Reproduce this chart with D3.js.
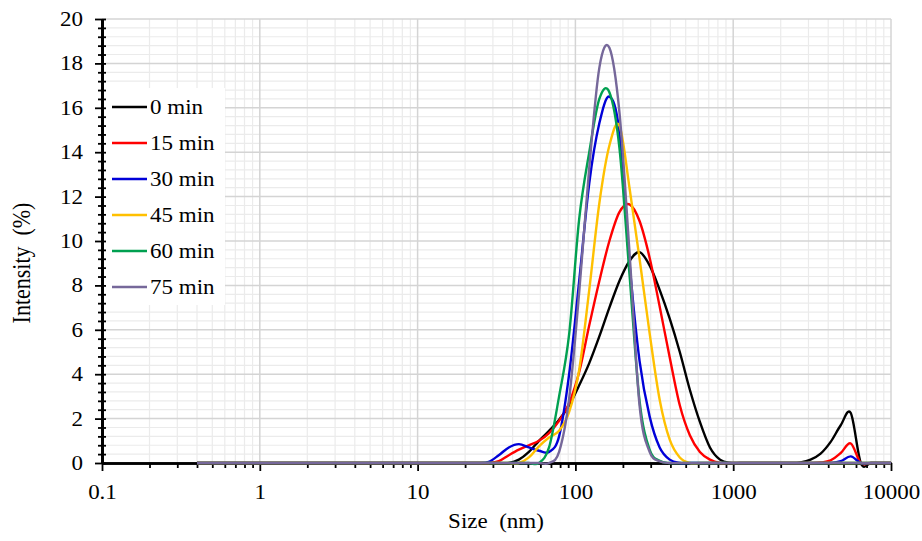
<!DOCTYPE html>
<html>
<head>
<meta charset="utf-8">
<script src="https://cdn.jsdelivr.net/npm/d3@7"></script>
<style>
  body { margin: 0; background: #fff; }
  svg { display: block; }
  text { font-family: "Liberation Serif", "Times New Roman", serif; fill: #000; }
</style>
</head>
<body>
<svg id="chart" width="922" height="541"></svg>
<script>
// Size classes (nm) of the DLS intensity distribution
const sizes = [
  0.4, 0.4632, 0.5365, 0.6213, 0.7195, 0.8332, 0.9649, 1.117, 1.294, 1.499,
  1.736, 2.01, 2.328, 2.696, 3.122, 3.615, 4.187, 4.849, 5.615, 6.503,
  7.531, 8.721, 10.1, 11.7, 13.54, 15.69, 18.17, 21.04, 24.36, 28.21,
  32.67, 37.84, 43.82, 50.75, 58.77, 68.06, 78.82, 91.28, 105.7, 122.4,
  141.8, 164.2, 190.1, 220.2, 255.0, 295.3, 342.0, 396.1, 458.7, 531.2,
  615.1, 712.4, 825.0, 955.4, 1106, 1281, 1484, 1718, 1990, 2305,
  2669, 3091, 3580, 4145, 4801, 5560, 6439, 7456, 8635, 10000
];

// Intensity (%) per size class for each sonication time
const int0 = [
  0, 0, 0, 0, 0, 0, 0, 0, 0, 0,
  0, 0, 0, 0, 0, 0, 0, 0, 0, 0,
  0, 0, 0, 0, 0, 0, 0, 0, 0, 0,
  0, 0, 0.15, 0.5, 1.0, 1.45, 1.95, 2.6, 3.5, 4.5,
  5.7, 7.0, 8.2, 9.1, 9.5, 8.9, 7.8, 6.5, 5.0, 3.3,
  1.85, 0.7, 0.15, 0, 0, 0, 0, 0, 0, 0,
  0.03, 0.15, 0.42, 0.95, 1.7, 2.25, 0, 0, 0, 0
];
const int15 = [
  0, 0, 0, 0, 0, 0, 0, 0, 0, 0,
  0, 0, 0, 0, 0, 0, 0, 0, 0, 0,
  0, 0, 0, 0, 0, 0, 0, 0, 0, 0,
  0.08, 0.35, 0.6, 0.8, 1.0, 1.35, 1.9, 2.7, 4.1, 6.2,
  8.2, 10.0, 11.3, 11.65, 10.9, 9.25, 7.05, 4.75, 2.6, 1.25,
  0.5, 0.15, 0, 0, 0, 0, 0, 0, 0, 0,
  0, 0, 0.02, 0.12, 0.45, 0.88, 0, 0, 0, 0
];
const int30 = [
  0, 0, 0, 0, 0, 0, 0, 0, 0, 0,
  0, 0, 0, 0, 0, 0, 0, 0, 0, 0,
  0, 0, 0, 0, 0, 0, 0, 0, 0, 0.05,
  0.35, 0.7, 0.85, 0.7, 0.55, 0.5, 1.2, 4.0, 8.2, 12.6,
  15.3, 16.5, 14.9, 9.0, 4.6, 2.1, 0.7, 0.15, 0, 0,
  0, 0, 0, 0, 0, 0, 0, 0, 0, 0,
  0, 0, 0, 0, 0.08, 0.3, 0, 0, 0, 0
];
const int45 = [
  0, 0, 0, 0, 0, 0, 0, 0, 0, 0,
  0, 0, 0, 0, 0, 0, 0, 0, 0, 0,
  0, 0, 0, 0, 0, 0, 0, 0, 0, 0,
  0, 0, 0, 0.25, 0.75, 1.15, 1.45, 2.3, 4.2, 7.8,
  11.7, 14.3, 15.2, 12.4, 9.2, 5.85, 2.85, 1.05, 0.25, 0,
  0, 0, 0, 0, 0, 0, 0, 0, 0, 0,
  0, 0, 0, 0, 0, 0, 0, 0, 0, 0
];
const int60 = [
  0, 0, 0, 0, 0, 0, 0, 0, 0, 0,
  0, 0, 0, 0, 0, 0, 0, 0, 0, 0,
  0, 0, 0, 0, 0, 0, 0, 0, 0, 0,
  0, 0, 0, 0, 0, 0.7, 3.0, 5.8, 11.0, 14.0,
  16.4, 16.7, 14.2, 8.5, 2.8, 0.6, 0.1, 0, 0, 0,
  0, 0, 0, 0, 0, 0, 0, 0, 0, 0,
  0, 0, 0, 0, 0, 0, 0, 0, 0, 0
];
const int75 = [
  0, 0, 0, 0, 0, 0, 0, 0, 0, 0,
  0, 0, 0, 0, 0, 0, 0, 0, 0, 0,
  0, 0, 0, 0, 0, 0, 0, 0, 0, 0,
  0, 0, 0, 0, 0, 0, 0.5, 2.9, 7.7, 13.3,
  17.8, 18.7, 15.8, 9.5, 2.6, 0.5, 0.08, 0, 0, 0,
  0, 0, 0, 0, 0, 0, 0, 0, 0, 0,
  0, 0, 0, 0, 0, 0, 0, 0, 0, 0
];

const seriesNames = ["0 min", "15 min", "30 min", "45 min", "60 min", "75 min"];
const seriesValues = [int0, int15, int30, int45, int60, int75];
const seriesColors = ["#000000", "#ff0000", "#0000d8", "#ffc000", "#00a050", "#76689a"];

const xTicks = [0.1, 1, 10, 100, 1000, 10000];
const xTickLabels = ["0.1", "1", "10", "100", "1000", "10000"];
const yTicks = [0, 2, 4, 6, 8, 10, 12, 14, 16, 18, 20];

// Layout
const plotLeft = 102, plotRight = 891, plotTop = 19, plotBottom = 463;
const stretch = 1.15; // horizontal text width factor

const svg = d3.select("#chart");
const x = d3.scaleLog().domain([0.1, 10000]).range([plotLeft, plotRight]);
const y = d3.scaleLinear().domain([0, 20]).range([plotBottom, plotTop]);

// Minor positions: 2..9 inside each decade, and every 0.4 % on the y axis
const xMinor = [];
xTicks.slice(0, -1).forEach(d => { for (let k = 2; k <= 9; k++) xMinor.push(d * k); });
const yAll = d3.range(0, 51).map(i => i * 0.4);
const yMinor = yAll.filter(v => !yTicks.some(t => Math.abs(t - v) < 1e-6));

// Grid
const grid = svg.append("g");
grid.selectAll(".vmin").data(xMinor).join("line")
  .attr("x1", d => x(d)).attr("x2", d => x(d)).attr("y1", plotTop).attr("y2", plotBottom)
  .attr("stroke", "#ebebeb").attr("stroke-width", 1.2);
grid.selectAll(".hmin").data(yMinor).join("line")
  .attr("x1", plotLeft).attr("x2", plotRight).attr("y1", d => y(d)).attr("y2", d => y(d))
  .attr("stroke", "#ebebeb").attr("stroke-width", 1.2);
grid.selectAll(".vmaj").data(xTicks).join("line")
  .attr("x1", d => x(d)).attr("x2", d => x(d)).attr("y1", plotTop).attr("y2", plotBottom)
  .attr("stroke", "#d4d4d4").attr("stroke-width", 1.5);
grid.selectAll(".hmaj").data(yTicks).join("line")
  .attr("x1", plotLeft).attr("x2", plotRight).attr("y1", d => y(d)).attr("y2", d => y(d))
  .attr("stroke", "#d4d4d4").attr("stroke-width", 1.5);

// Legend background
svg.append("rect").attr("x", plotLeft + 2).attr("y", 88).attr("width", 121).attr("height", 217).attr("fill", "#fff");

// Axes
const xAxisMinor = svg.append("g").attr("transform", `translate(0,${plotBottom})`)
  .call(d3.axisBottom(x).tickValues(xMinor).tickFormat("").tickSizeInner(5).tickSizeOuter(0));
const xAxis = svg.append("g").attr("transform", `translate(0,${plotBottom})`)
  .call(d3.axisBottom(x).tickValues(xTicks).tickFormat((d, i) => xTickLabels[i]).tickSizeInner(8).tickSizeOuter(0));
xAxis.selectAll(".tick text").attr("y", 22).attr("font-size", 20)
  .attr("transform", `scale(${stretch},1)`);

const yAxisMinorL = svg.append("g").attr("transform", `translate(${plotLeft},0)`)
  .call(d3.axisLeft(y).tickValues(yMinor).tickFormat("").tickSizeInner(4).tickSizeOuter(0));
const yAxisMinorR = svg.append("g").attr("transform", `translate(${plotLeft},0)`)
  .call(d3.axisRight(y).tickValues(yAll).tickFormat("").tickSizeInner(4).tickSizeOuter(0));
const yAxis = svg.append("g").attr("transform", `translate(${plotLeft},0)`)
  .call(d3.axisLeft(y).tickValues(yTicks).tickFormat(d3.format("d")).tickSizeInner(7).tickSizeOuter(0));
yAxis.selectAll(".tick text").attr("font-size", 20).attr("x", -19 / stretch)
  .attr("transform", `scale(${stretch},1)`);

[xAxisMinor, xAxis, yAxisMinorL, yAxisMinorR, yAxis].forEach(g => {
  g.selectAll(".domain").attr("stroke", "#000").attr("stroke-width", 2.6);
  g.selectAll(".tick line").attr("stroke", "#000").attr("stroke-width", 1.8);
});

// Axis titles
svg.append("text")
  .attr("transform", `translate(496,528) scale(${stretch},1)`)
  .attr("text-anchor", "middle").attr("font-size", 20).style("white-space", "pre")
  .text("Size  (nm)");
svg.append("text")
  .attr("transform", `translate(30,263) rotate(-90) scale(1,${stretch})`)
  .attr("text-anchor", "middle").attr("font-size", 22).style("white-space", "pre")
  .text("Intensity  (%)");

// Distribution curves (smoothed through every size class)
const line = d3.line()
  .x(d => x(d[0])).y(d => y(d[1]))
  .curve(d3.curveCatmullRom.alpha(0));
const curves = svg.append("g");
seriesValues.forEach((vals, i) => {
  curves.append("path")
    .datum(sizes.map((s, j) => [s, vals[j]]))
    .attr("d", line)
    .attr("fill", "none")
    .attr("stroke", seriesColors[i])
    .attr("stroke-width", 2.4)
    .attr("stroke-linejoin", "round");
});

// Legend
const legend = svg.append("g");
seriesNames.forEach((name, i) => {
  const ly = 107 + i * 36;
  legend.append("line").attr("x1", 112).attr("x2", 147).attr("y1", ly).attr("y2", ly)
    .attr("stroke", seriesColors[i]).attr("stroke-width", 2.4);
  legend.append("text")
    .attr("transform", `translate(150,${ly}) scale(${stretch},1)`)
    .attr("dy", "0.35em").attr("font-size", 20)
    .text(name);
});
</script>
</body>
</html>
